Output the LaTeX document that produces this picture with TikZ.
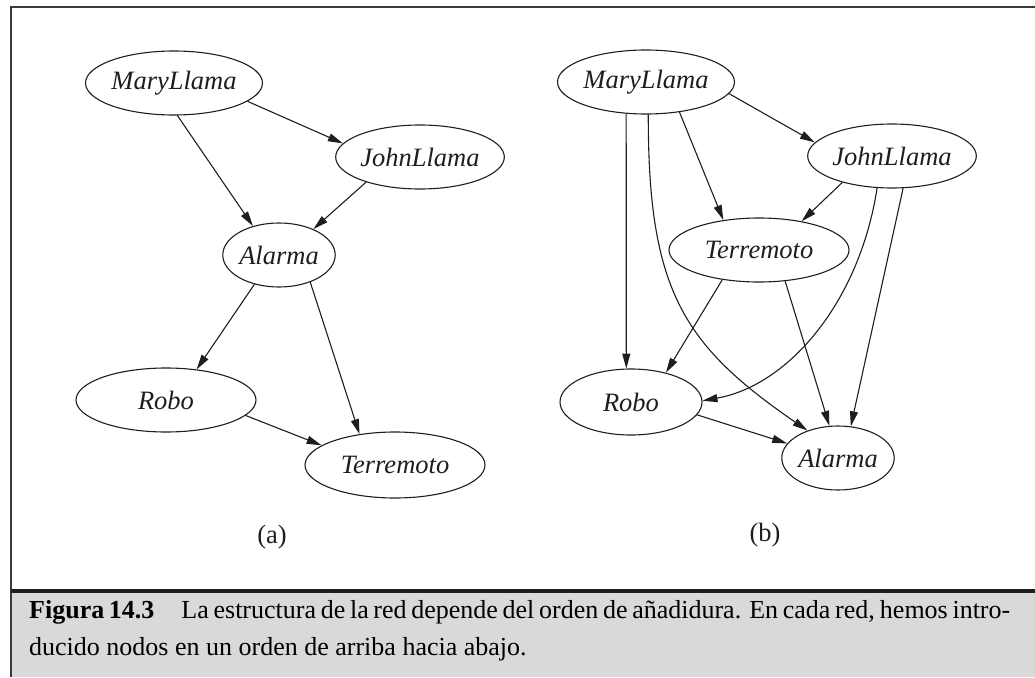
\documentclass[tikz,border=0pt]{standalone}
\usepackage{fontspec}
\setmainfont{Liberation Serif}
\usetikzlibrary{shapes.geometric,arrows.meta}
\definecolor{linec}{HTML}{1E1E1E}
\definecolor{framec}{HTML}{3A3A3A}
\definecolor{capbg}{HTML}{D9D9D9}
\newcommand\ndfont{\fontsize{26.5}{30}\selectfont\itshape}
\newcommand\lblfont{\fontsize{26.5}{30}\selectfont}
\newcommand\capfont{\fontsize{26}{37}\selectfont}
\tikzset{
  nd/.style={draw=linec, line width=1.1pt, ellipse, inner sep=0pt, font=\ndfont, text=linec},
  edge/.style={draw=linec, line width=1.1pt, -{Triangle[length=15pt,width=8pt]}},
  lbl/.style={font=\lblfont, text=linec, inner sep=0pt}
}
\begin{document}
\begin{tikzpicture}[x=1pt,y=1pt]
\useasboundingbox (0,0) rectangle (1035,-677);
% caption background and frame
\fill[capbg] (11,-592) rectangle (1035,-677);
\draw[framec, line width=1.6pt] (1035,-7) -- (11,-7) -- (11,-677);
\draw[linec, line width=3.5pt] (11,-591) -- (1035,-591);

% ---- panel (a)
\node[nd, minimum width=162pt, minimum height=64pt] (mA) at (174,-83) {MaryLlama};
\node[nd, minimum width=160pt, minimum height=64pt] (jA) at (420,-157) {JohnLlama};
\node[nd, minimum width=108pt, minimum height=64pt] (aA) at (279,-255) {Alarma};
\node[nd, minimum width=180pt, minimum height=64pt] (rA) at (166,-400) {Robo};
\node[nd, minimum width=180pt, minimum height=66pt] (tA) at (395,-465) {Terremoto};
\node[lbl] (la) at (272,-537) {(a)};

\draw[edge] (mA.-14.2) -- (jA.170.9);
\draw[edge] (mA.-84.8) -- (aA.132.2);
\draw[edge] (jA.205.3) -- (aA.37.9);
\draw[edge] (aA.-130.9) -- (rA.45);
\draw[edge] (aA.-41) -- (tA.139.9);
\draw[edge] (rA.-11.2) -- (tA.165.6);

% ---- panel (b)
\node[nd, minimum width=162pt, minimum height=64pt] (mB) at (646,-82) {MaryLlama};
\node[nd, minimum width=160pt, minimum height=64pt] (jB) at (892,-156) {JohnLlama};
\node[nd, minimum width=180pt, minimum height=64pt] (tB) at (759,-250) {Terremoto};
\node[nd, minimum width=142pt, minimum height=66pt] (rB) at (631,-402) {Robo};
\node[nd, minimum width=106pt, minimum height=64pt] (aB) at (838,-458) {Alarma};
\node[lbl] (lb) at (765,-535) {(b)};

\draw[edge] (mB.-8.9) -- (jB.170.8);
\draw[edge] (mB.-42.3) -- (tB.140.5);
\draw[edge] (mB.-122.8) -- (rB.98.1);
\draw[edge] (mB.-86.4) .. controls (648,-290) and (683,-345) .. (aB.138.8);
\draw[edge] (jB.-152.5) -- (tB.34.8);
\draw[edge] (jB.-115.1) .. controls (860,-300) and (790,-385) .. (rB.1.6);
\draw[edge] (jB.-71.6) -- (aB.68.8);
\draw[edge] (tB.-141.5) -- (rB.40.7);
\draw[edge] (tB.-50.7) -- (aB.105.9);
\draw[edge] (rB.-11.1) -- (aB.164.8);

% ---- caption
\node[anchor=base west, inner sep=0pt, text=black] (cap1) at (29,-618)
  {\capfont\hbox to 981pt{\textbf{Figura 14.3}\hskip 27pt La estructura de la red depende del orden de añadidura. En cada red, hemos intro-}};
\node[anchor=base west, inner sep=0pt, text=black] (cap2) at (29,-655)
  {\capfont ducido nodos en un orden de arriba hacia abajo.};
\end{tikzpicture}
\end{document}
